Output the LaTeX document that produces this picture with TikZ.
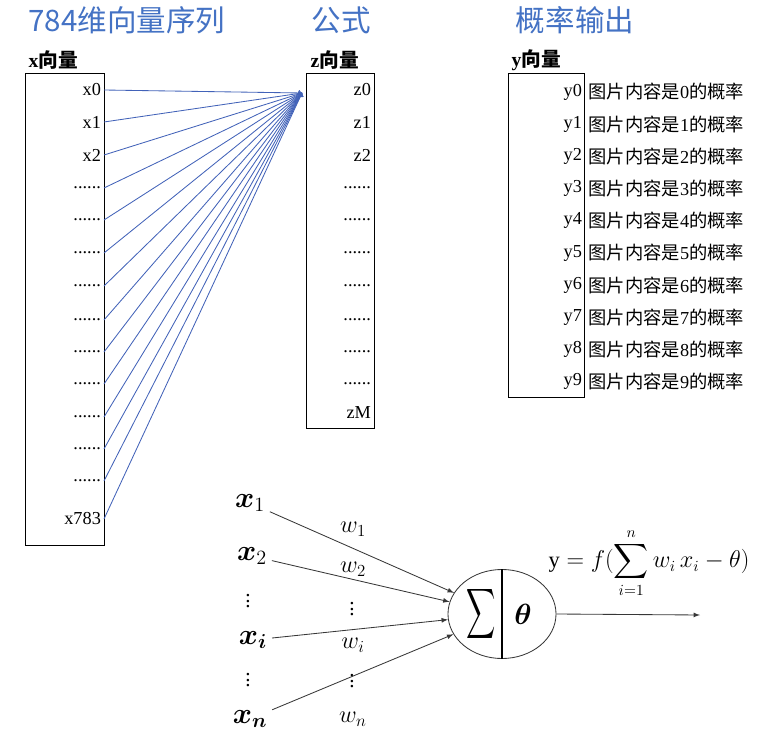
\documentclass[tikz,border=0pt]{standalone}
\usepackage{amsmath,bm}
\usepackage{fontspec}
\setmainfont{Liberation Serif}
\newfontfamily\cjk{Noto Sans CJK SC}
\usetikzlibrary{shapes.geometric}
\definecolor{title-blue}{RGB}{68,114,196}
\definecolor{link-blue}{RGB}{66,98,184}
\definecolor{wire-gray}{RGB}{55,55,55}
\newcommand{\rowdots}{......}

\begin{document}
\begin{tikzpicture}[x=0.025cm, y=-0.025cm,
    heading/.style={text=title-blue, font=\cjk\fontsize{21}{24}\selectfont},
    veclabel/.style={anchor=west, inner sep=1pt, font=\bfseries\fontsize{14}{16}\selectfont},
    vecbox/.style={draw, line width=0.7pt, anchor=north west, inner sep=0pt},
    entry/.style={anchor=east, inner xsep=2pt, inner ysep=1pt, font=\fontsize{13}{15}\selectfont},
    note/.style={anchor=west, inner xsep=1pt, font=\fontsize{13}{15}\selectfont},
    link/.style={->, link-blue, line width=0.6pt},
    wire/.style={-latex, wire-gray, line width=0.6pt},
    inlbl/.style={font=\fontsize{20}{22}\selectfont},
    vdotlbl/.style={inner sep=0pt, font=\fontsize{15}{17}\selectfont},
    wlbl/.style={font=\fontsize{18}{20}\selectfont}]
    \useasboundingbox (0,0) rectangle (784,742);

    % Headings
    \node[heading] (h-in) at (127,20) {784维向量序列};
    \node[heading] (h-mid) at (341,20) {公式};
    \node[heading] (h-out) at (575,20) {概率输出};

    % Vector labels
    \node[veclabel] (l-x) at (27,60) {x{\cjk 向量}};
    \node[veclabel] (l-z) at (309,60) {z{\cjk 向量}};
    \node[veclabel] (l-y) at (510,60) {y{\cjk 向量}};

    % Vector boxes
    \node[vecbox, minimum width=1.975cm, minimum height=11.8cm] (xbox) at (25,73) {};
    \node[vecbox, minimum width=1.7cm, minimum height=8.875cm] (zbox) at (306,73) {};
    \node[vecbox, minimum width=1.9cm, minimum height=8.1cm] (ybox) at (508,73) {};

    % x entries
    \foreach \lbl/\yy [count=\k] in {x0/90, x1/122, x2/155, \rowdots/188, \rowdots/220,
        \rowdots/253, \rowdots/286, \rowdots/320, \rowdots/352, \rowdots/384, \rowdots/417,
        \rowdots/449, \rowdots/481, x783/519}
        \node[entry] (x\k) at (104,\yy) {\lbl};

    % z entries
    \foreach \lbl/\yy [count=\k] in {z0/90, z1/122, z2/155, \rowdots/188, \rowdots/220,
        \rowdots/253, \rowdots/286, \rowdots/320, \rowdots/352, \rowdots/384, zM/413}
        \node[entry] (z\k) at (374,\yy) {\lbl};

    % y entries and meanings
    \foreach \k in {0,...,9} {
        \node[entry] (y\k) at (585,{92+32.2*\k}) {y\k};
        \node[note] (p\k) at (587,{92+32.2*\k}) {{\cjk 图片内容是}\k{\cjk 的概率}};
    }

    % Connections x -> z
    \coordinate (tip) at (302,93);
    \foreach \k in {1,...,14}
        \draw[link] (x\k.east) -- (tip);

    % Neuron
    \node[ellipse, draw, wire-gray, line width=0.6pt, minimum width=2.7cm, minimum height=2.225cm] (neuron) at (502,614) {};
    \draw[line width=0.8pt] (neuron.north) -- (neuron.south);
    \node[font=\fontsize{26}{30}\selectfont, inner sep=0pt] (sum) at (481,614) {\scalebox{0.58}[1]{$\displaystyle\sum$}};
    \node[inlbl] (theta) at (523,614) {$\bm{\theta}$};

    % Inputs
    \node[inlbl] (in1) at (250,503) {$\bm{x}_1$};
    \node[inlbl] (in2) at (252,556) {$\bm{x}_2$};
    \node[vdotlbl] (ind1) at (248,597) {$\vdots$};
    \node[inlbl] (ini) at (253,640) {$\bm{x_i}$};
    \node[vdotlbl] (ind2) at (248,676) {$\vdots$};
    \node[inlbl] (inn) at (250,719) {$\bm{x_n}$};

    % Weights
    \node[wlbl] (w1) at (353,529) {$w_1$};
    \node[wlbl] (w2) at (353,569) {$w_2$};
    \node[vdotlbl] (wd1) at (352,605) {$\vdots$};
    \node[wlbl] (wi) at (353,645) {$w_i$};
    \node[vdotlbl] (wd2) at (352,677) {$\vdots$};
    \node[wlbl] (wn) at (353,719) {$w_n$};

    \draw[wire] (in1) -- (neuron);
    \draw[wire] (in2) -- (neuron);
    \draw[wire] (ini) -- (neuron);
    \draw[wire] (inn) -- (neuron);

    % Output
    \coordinate (out) at (700,615);
    \draw[wire] (neuron.east) -- (out);
    \node[font=\fontsize{16}{19}\selectfont] (formula) at (649,563)
        {$\mathrm{y} = f(\displaystyle\sum_{i=1}^{n} w_i\, x_i - \theta)$};
\end{tikzpicture}
\end{document}
